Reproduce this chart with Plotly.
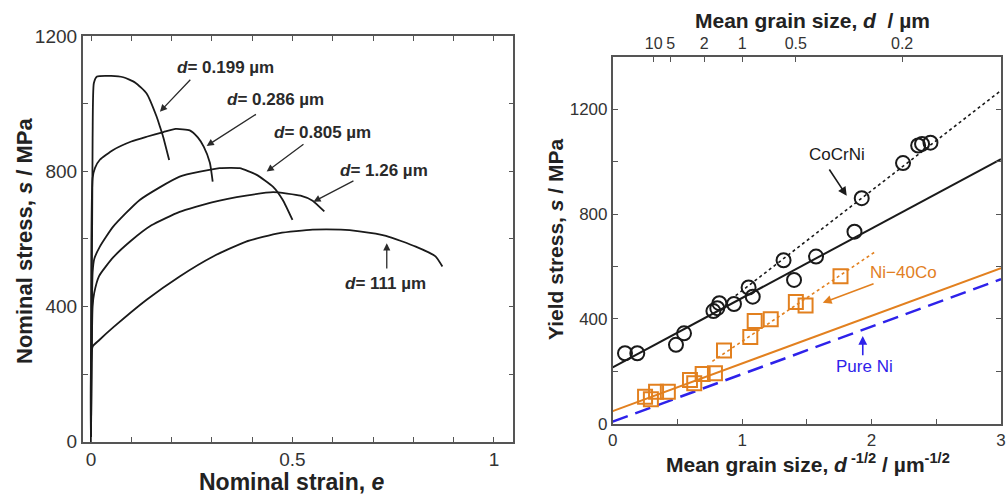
import plotly.graph_objects as go

FONT = "Liberation Sans, Arial, sans-serif"
INK = "#1a1a1a"
AXIS = "#555555"
ORANGE = "#E2801F"
BLUE = "#2E22EA"

# ---------- Left: nominal stress-strain curves ----------
curve_labels = ["0.199", "0.286", "0.805", "1.26", "111"]
strain_0199 = [0, 0.004, 0.007, 0.015, 0.05, 0.08, 0.11, 0.138, 0.163, 0.171, 0.179, 0.194]
stress_0199 = [0, 900, 1060, 1080, 1082, 1078, 1062, 1030, 961, 932, 902, 833]
strain_0286 = [0, 0.004, 0.01, 0.022, 0.055, 0.1, 0.138, 0.18, 0.21, 0.245, 0.265, 0.28, 0.295, 0.302]
stress_0286 = [0, 780, 810, 834, 863, 888, 902, 916, 925, 921, 900, 872, 825, 769]
strain_0805 = [0, 0.004, 0.008, 0.022, 0.055, 0.121, 0.22, 0.319, 0.369, 0.41, 0.452, 0.476, 0.5]
stress_0805 = [0, 500, 540, 577, 636, 715, 784, 809, 809, 790, 754, 715, 656]
strain_126 = [0, 0.004, 0.008, 0.02, 0.055, 0.1, 0.15, 0.22, 0.3, 0.385, 0.452, 0.52, 0.55, 0.579]
stress_126 = [0, 400, 440, 490, 545, 595, 640, 680, 708, 728, 738, 728, 713, 681]
strain_111 = [0, 0.004, 0.02, 0.055, 0.138, 0.22, 0.303, 0.385, 0.468, 0.55, 0.62, 0.666, 0.732, 0.806, 0.855, 0.872]
stress_111 = [0, 281, 300, 338, 420, 489, 548, 592, 617, 627, 627, 622, 609, 577, 548, 518]
curves = [
    (strain_0199, stress_0199),
    (strain_0286, stress_0286),
    (strain_0805, stress_0805),
    (strain_126, stress_126),
    (strain_111, stress_111),
]
# label text position and arrow (tail -> head) in strain/stress units
label_pos = [(0.335, 1108), (0.459, 1011), (0.574, 916), (0.727, 803), (0.731, 469)]
arrow_tail = [(0.250, 1075), (0.413, 971), (0.531, 883), (0.655, 774), (0.734, 508)]
arrow_head = [(0.171, 976), (0.287, 875), (0.436, 799), (0.552, 710), (0.734, 587)]

# ---------- Right: Hall-Petch plot ----------
cocrni_x = [0.095, 0.19, 0.489, 0.551, 0.778, 0.808, 0.824, 0.937, 1.05, 1.082,
            1.32, 1.401, 1.571, 1.868, 1.924, 2.243, 2.36, 2.39, 2.455]
cocrni_y = [269, 269, 301, 345, 430, 441, 460, 457, 520, 485,
            624, 549, 638, 733, 861, 995, 1062, 1068, 1073]
nico_x = [0.25, 0.295, 0.335, 0.426, 0.597, 0.63, 0.695, 0.79, 0.86, 1.063,
          1.097, 1.221, 1.415, 1.49, 1.76]
nico_y = [103, 93, 122, 122, 167, 154, 190, 193, 279, 331,
          392, 399, 465, 451, 563]
cocrni_fit_x = [0, 3]
cocrni_fit_y = [215, 1010]
cocrni_fine_x = [0.95, 3]
cocrni_fine_y = [489, 1272]
nico_fit_x = [0, 3]
nico_fit_y = [48, 594]
nico_fine_x = [0.77, 2.03]
nico_fine_y = [238, 657]
pureni_x = [0, 3]
pureni_y = [8, 552]
top_tick_d = [10, 5, 2, 1, 0.5, 0.2]
top_tick_text = ["10", "5", "2", "1", "0.5", "0.2"]

fig = go.Figure()

for (ex, sy) in curves:
    fig.add_trace(go.Scatter(
        x=ex, y=sy, mode="lines", xaxis="x", yaxis="y",
        line=dict(color=INK, width=1.8, shape="spline", smoothing=0.5),
        showlegend=False, hoverinfo="skip"))

fig.add_trace(go.Scatter(x=pureni_x, y=pureni_y, mode="lines", xaxis="x3", yaxis="y3",
                         line=dict(color=BLUE, width=2.5, dash="16px,8px"), showlegend=False))
fig.add_trace(go.Scatter(x=nico_fit_x, y=nico_fit_y, mode="lines", xaxis="x3", yaxis="y3",
                         line=dict(color=ORANGE, width=2), showlegend=False))
fig.add_trace(go.Scatter(x=nico_fine_x, y=nico_fine_y, mode="lines", xaxis="x3", yaxis="y3",
                         line=dict(color=ORANGE, width=1.6, dash="dot"), showlegend=False))
fig.add_trace(go.Scatter(x=cocrni_fit_x, y=cocrni_fit_y, mode="lines", xaxis="x3", yaxis="y3",
                         line=dict(color=INK, width=2), showlegend=False))
fig.add_trace(go.Scatter(x=cocrni_fine_x, y=cocrni_fine_y, mode="lines", xaxis="x3", yaxis="y3",
                         line=dict(color=INK, width=1.6, dash="dot"), showlegend=False))
fig.add_trace(go.Scatter(x=nico_x, y=nico_y, mode="markers", xaxis="x3", yaxis="y3",
                         marker=dict(symbol="square-open", size=14, color=ORANGE,
                                     line=dict(width=2, color=ORANGE)), showlegend=False))
fig.add_trace(go.Scatter(x=cocrni_x, y=cocrni_y, mode="markers", xaxis="x3", yaxis="y3",
                         marker=dict(symbol="circle-open", size=14, color=INK,
                                     line=dict(width=2, color=INK)), showlegend=False))
# invisible trace so the top grain-size axis is drawn
fig.add_trace(go.Scatter(x=[0, 3], y=[0, 0], mode="markers", xaxis="x4", yaxis="y3",
                         marker=dict(opacity=0), showlegend=False, hoverinfo="skip"))

tickfont_l = dict(family=FONT, size=19, color="#333333")
tickfont_r = dict(family=FONT, size=17, color="#333333")
tickfont_top = dict(family=FONT, size=16, color="#333333")
common = dict(showline=True, linecolor=AXIS, linewidth=1.6, ticks="inside",
              tickcolor=AXIS, tickwidth=1.4, ticklen=5, showgrid=False, zeroline=False,
              automargin=False)

annotations = []
for lab, (tx, ty), (ax0, ay0), (hx, hy) in zip(curve_labels, label_pos, arrow_tail, arrow_head):
    annotations.append(dict(x=tx, y=ty, xref="x", yref="y", showarrow=False,
                            xanchor="center", yanchor="middle",
                            text="<b><i>d</i>= " + lab + " µm</b>",
                            font=dict(family=FONT, size=17, color="#2a2a2a")))
    annotations.append(dict(x=hx, y=hy, ax=ax0, ay=ay0, xref="x", yref="y", axref="x", ayref="y",
                            text="", showarrow=True, arrowhead=2, arrowsize=1.1,
                            arrowwidth=1.3, arrowcolor="#2a2a2a"))

right_labels = [
    ("CoCrNi", 1.731, 1026, INK, (1.666, 976), (1.808, 870)),
    ("Ni−40Co", 2.243, 579, ORANGE, (2.027, 536), (1.623, 462)),
    ("Pure Ni", 1.942, 217, BLUE, (1.932, 256), (1.932, 335)),
]
for txt, tx, ty, col, (ax0, ay0), (hx, hy) in right_labels:
    annotations.append(dict(x=tx, y=ty, xref="x3", yref="y3", showarrow=False, text=txt,
                            xanchor="center", yanchor="middle",
                            font=dict(family=FONT, size=17, color=col)))
    annotations.append(dict(x=hx, y=hy, ax=ax0, ay=ay0, xref="x3", yref="y3", axref="x3", ayref="y3",
                            text="", showarrow=True, arrowhead=2, arrowsize=1.1,
                            arrowwidth=1.6, arrowcolor=col))

title_font = dict(family=FONT, size=22, color="#222222")
title_font_x = dict(family=FONT, size=23, color="#222222")
title_font_r = dict(family=FONT, size=21, color="#222222")
axis_titles = [
    (292, 482, 0, "<b>Nominal strain, <i>e</i></b>", title_font_x),
    (25, 241, -90, "<b>Nominal stress, <i>s</i> / MPa</b>", title_font),
    (808, 463, 0, "<b>Mean grain size, <i>d</i><sup> -1/2</sup> / µm<sup>-1/2</sup></b>", title_font_r),
    (812, 20, 0, "<b>Mean grain size, <i>d</i>  / µm</b>", title_font_r),
    (555, 240, -90, "<b>Yield stress, <i>s</i> / MPa</b>", title_font_r),
]
for px, py, ang, txt, fnt in axis_titles:
    annotations.append(dict(x=px / 1008, y=1 - py / 497, xref="paper", yref="paper",
                            xanchor="center", yanchor="middle", showarrow=False,
                            textangle=ang, text=txt, font=fnt))

fig.update_layout(
    width=1008, height=497,
    margin=dict(l=0, r=0, t=0, b=0, autoexpand=False),
    paper_bgcolor="white", plot_bgcolor="white",
    xaxis=dict(domain=[82.7 / 1008, 513.3 / 1008], anchor="y", range=[-0.0206, 1.048],
               tickvals=[0, 0.5, 1], ticktext=["0", "0.5", "1"], mirror="ticks",
               minor=dict(ticks="inside", dtick=0.1, tick0=0, ticklen=5, tickcolor=AXIS, tickwidth=1.4),
               tickfont=tickfont_l, **common),
    yaxis=dict(domain=[1 - 441.7 / 497, 1 - 36 / 497], anchor="x", range=[0, 1200],
               tickvals=[0, 400, 800, 1200], mirror="ticks",
               minor=dict(ticks="inside", dtick=200, tick0=0, ticklen=5, tickcolor=AXIS, tickwidth=1.4),
               tickfont=tickfont_l, **common),
    xaxis3=dict(domain=[612.7 / 1008, 1001 / 1008], anchor="y3", range=[0, 3],
                tickvals=[0, 1, 2, 3], mirror=False,
                minor=dict(ticks="inside", dtick=0.5, tick0=0, ticklen=5, tickcolor=AXIS, tickwidth=1.4),
                tickfont=tickfont_r, **common),
    xaxis4=dict(overlaying="x3", side="top", anchor="y3", range=[0, 3],
                tickvals=[dv ** -0.5 for dv in top_tick_d], ticktext=top_tick_text,
                tickfont=tickfont_top, **common),
    yaxis3=dict(domain=[1 - 423.7 / 497, 1 - 57 / 497], anchor="x3", range=[0, 1400],
                tickvals=[0, 400, 800, 1200], mirror="ticks",
                minor=dict(ticks="inside", dtick=200, tick0=0, ticklen=5, tickcolor=AXIS, tickwidth=1.4),
                tickfont=tickfont_r, **common),
    annotations=annotations,
)

fig.write_html("out.html")
